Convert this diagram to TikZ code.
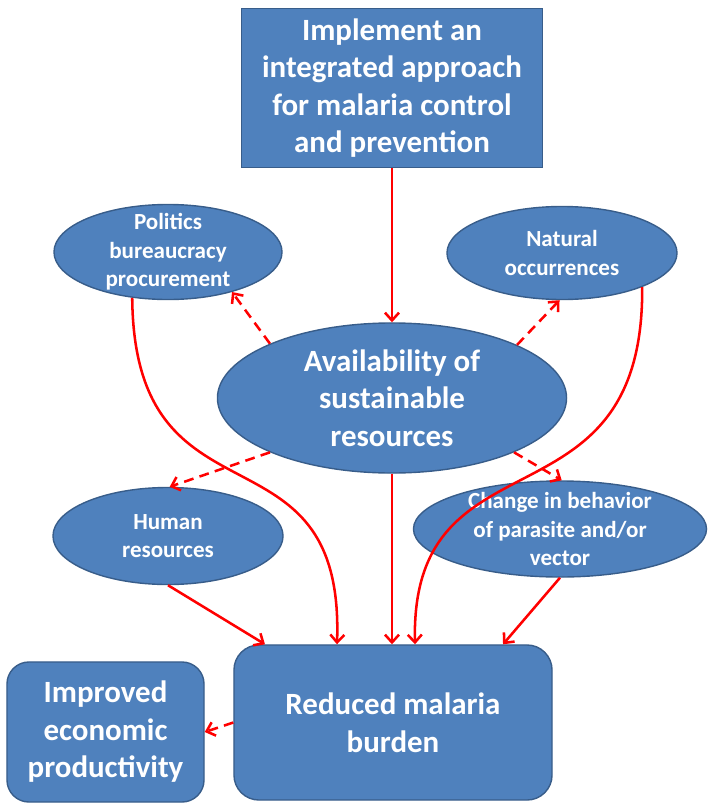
\documentclass[tikz,border=0pt]{standalone}
\usepackage{fontspec}
\setmainfont{Carlito}
\usetikzlibrary{shapes.geometric,arrows.meta}
\definecolor{boxblue}{HTML}{4F81BD}
\definecolor{boxedge}{HTML}{385D8A}
\definecolor{arrred}{HTML}{FF0000}

\begin{document}
\begin{tikzpicture}[x=0.025cm,y=-0.025cm,
  big/.style={font=\bfseries\fontsize{22}{26.7}\selectfont, text=white, align=center},
  small/.style={font=\bfseries\fontsize{16.4}{20.3}\selectfont, text=white, align=center},
  box/.style={draw=boxedge, line width=1pt, fill=boxblue, inner sep=0pt},
  oval/.style={box, ellipse},
  link/.style={draw=arrred, line width=1.8pt, -{Straight Barb[length=5.5pt,width=10pt]}},
  weak/.style={link, dash pattern=on 7pt off 4.5pt}]

\useasboundingbox (0,0) rectangle (708,803);

% boxes and ovals
\node[box, big, minimum width=7.525cm, minimum height=3.975cm] (top) at (392,88) {Implement an\\integrated approach\\for malaria control\\and prevention};
\node[oval, minimum width=5.7cm, minimum height=2.375cm, label={[small]center:{Politics\\bureaucracy\\procurement}}] (pol) at (168,252) {};
\node[oval, minimum width=5.75cm, minimum height=2.325cm, label={[small]center:{Natural\\occurrences}}] (nat) at (562,253) {};
\node[oval, minimum width=8.725cm, minimum height=3.75cm, label={[big]center:{Availability of\\sustainable\\resources}}] (av) at (392,398) {};
\node[oval, minimum width=5.75cm, minimum height=2.425cm, label={[small]center:{Human\\resources}}] (hum) at (168,536) {};
\node[oval, minimum width=7.325cm, minimum height=2.4cm, label={[small]center:{Change in behavior\\of parasite and/or\\vector}}] (chg) at (560,529) {};
\node[box, big, rounded corners=0.625cm, minimum width=7.95cm, minimum height=3.875cm] (red) at (393,722.5) {Reduced malaria\\burden};
\node[box, big, rounded corners=0.55cm, minimum width=4.925cm, minimum height=3.5cm] (imp) at (105.5,732) {Improved\\economic\\productivity};

% solid links
\draw[link] (top) -- (av);
\draw[link] (av.south) -- (av.south |- red.north);
\draw[link] (hum.south) -- ([xshift=-3.2cm]red.north);
\draw[link] (chg.south) -- ([xshift=2.75cm]red.north);
\draw[link] (pol.-128) .. controls +(2,240) and +(8,-230) .. ([xshift=-1.4cm]red.north);
\draw[link] (nat.-23) .. controls +(2,250) and +(-5,-220) .. ([xshift=0.55cm]red.north);

% dashed links
\draw[weak] (av.156) -- (pol.-32);
\draw[weak] (av.23) -- (nat.-93);
\draw[weak] (av.204) -- (hum.88);
\draw[weak] (av.-24) -- (chg.88);
\draw[weak] (red.west) -- (imp.east);
\end{tikzpicture}
\end{document}
